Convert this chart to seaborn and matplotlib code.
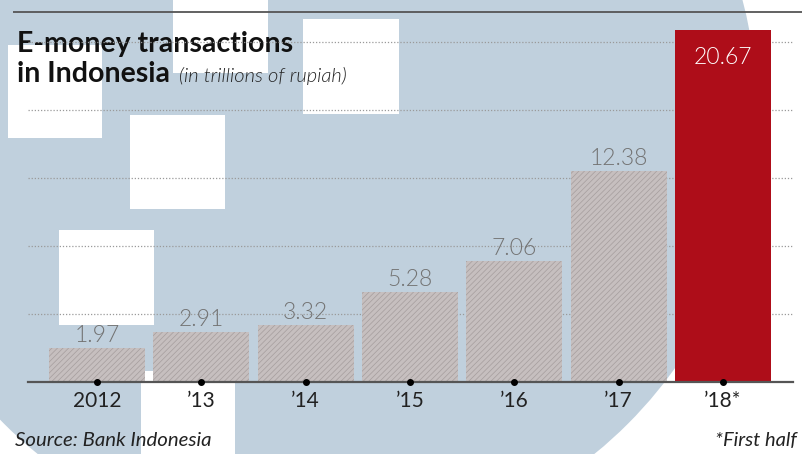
import matplotlib
matplotlib.use("Agg")
import matplotlib.pyplot as plt
import seaborn as sns
import pandas as pd
from matplotlib.patches import Circle, Rectangle

# ---- data ----
years = ["2012", "\u201913", "\u201914", "\u201915", "\u201916", "\u201917", "\u201918*"]
values = [1.97, 2.91, 3.32, 5.28, 7.06, 12.38, 20.67]
value_labels = ["1.97", "2.91", "3.32", "5.28", "7.06", "12.38", "20.67"]
bar_colors = ["#c6bfbf"] * 6 + ["#ae0d19"]
grid_values = [4, 8, 12, 16, 20]

sns.set_theme(style="white")
plt.rcParams["font.family"] = ["Lato", "DejaVu Sans"]
plt.rcParams["hatch.linewidth"] = 0.5

W, H = 802, 454
fig = plt.figure(figsize=(W / 100, H / 100), dpi=100)
fig.patch.set_facecolor("white")

# ---- decorative background (pixel coordinates) ----
bg = fig.add_axes([0, 0, 1, 1], zorder=0)
bg.set_xlim(0, W)
bg.set_ylim(H, 0)
bg.axis("off")
blue = "#c0d0dd"
bg.add_patch(Circle((316, 112), 441, facecolor=blue, edgecolor="none", zorder=1))
for (x0, y0, x1, y1) in [(173, -5, 268, 73), (303, 19, 399, 114), (8, 45, 102, 138),
                          (130, 115, 225, 209), (59, 230, 154, 325), (141, 371, 235, 460)]:
    bg.add_patch(Rectangle((x0, y0), x1 - x0, y1 - y0, facecolor="white",
                           edgecolor="none", zorder=2))
bg.plot([13, W], [11.5, 11.5], color="#555555", lw=1.3, zorder=3, solid_capstyle="butt")

bg.text(17, 52, "E-money transactions", fontsize=20.5, fontweight="bold",
        color="#111111", ha="left", va="baseline", zorder=5)
bg.text(17, 82, "in Indonesia", fontsize=20.5, fontweight="bold",
        color="#111111", ha="left", va="baseline", zorder=5)
bg.text(179, 82, "(in trillions of rupiah)", fontsize=14.5, fontstyle="italic",
        fontweight=300, color="#222222", ha="left", va="baseline", zorder=5)
bg.text(15, 446, "Source: Bank Indonesia", fontsize=14.7, fontstyle="italic",
        color="#222222", ha="left", va="baseline", zorder=5)
bg.text(797, 446, "*First half", fontsize=14.5, fontstyle="italic",
        color="#222222", ha="right", va="baseline", zorder=5)

# ---- main chart ----
ax = fig.add_axes([28 / W, 72.5 / H, (793 - 28) / W, (381.5 - 20) / H], zorder=2)
ax.patch.set_alpha(0)
df = pd.DataFrame({"year": years, "value": values})
sns.barplot(data=df, x="year", y="value", hue="year", palette=bar_colors,
            width=0.92, legend=False, ax=ax, saturation=1, zorder=3)

for i, p in enumerate(ax.patches):
    if i < 6:
        p.set_hatch("//////")
        p.set_edgecolor("#a59d9d")
        p.set_linewidth(0)
    else:
        p.set_edgecolor("#ae0d19")
        p.set_linewidth(0)

ax.set_xlim(-0.66, 6.67)
ax.set_ylim(0, 361.5 / 17)

for g in grid_values:
    ax.axhline(g, color="#9a9a9a", lw=0.9, ls=(0, (1, 1.5)), zorder=1)

for i, (v, lab) in enumerate(zip(values, value_labels)):
    if i < 6:
        ax.annotate(lab, (i, v), xytext=(0, 1.5), textcoords="offset points",
                    ha="center", va="bottom", fontsize=16.5, fontweight=300,
                    color="#737373", zorder=5)
    else:
        ax.annotate(lab, (i, v), xytext=(0, -12), textcoords="offset points",
                    ha="center", va="top", fontsize=16.5, fontweight=300,
                    color="white", zorder=5)

ax.scatter(range(len(values)), [0] * len(values), s=16, color="black", zorder=6,
           clip_on=False)

for s in ["top", "right", "left"]:
    ax.spines[s].set_visible(False)
ax.spines["bottom"].set_color("#555555")
ax.spines["bottom"].set_linewidth(1.6)
ax.spines["bottom"].set_zorder(4)
ax.set_yticks([])
ax.set_xlabel("")
ax.set_ylabel("")
ax.tick_params(axis="x", length=0, pad=7, labelsize=15, labelcolor="#222222")

fig.savefig("out.png", dpi=100)
